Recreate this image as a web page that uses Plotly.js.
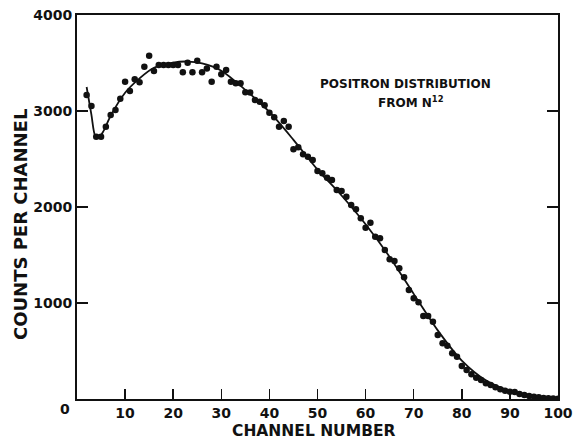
<!DOCTYPE html>
<html>
<head>
<meta charset="utf-8">
<script src="https://cdn.plot.ly/plotly-3.0.1.min.js"></script>
<style>html,body{margin:0;padding:0;background:#fff;}#chart{width:575px;height:439px;}</style>
</head>
<body>
<div id="chart"></div>
<script>
// Measured points: channel number and counts per channel
const channels = [2,3,4,5,6,7,8,9,10,11,12,13,14,15,16,17,18,19,20,21,22,23,24,25,26,27,28,29,30,31,32,33,34,35,36,37,38,39,40,41,42,43,44,45,46,47,48,49,50,51,52,53,54,55,56,57,58,59,60,61,62,63,64,65,66,67,68,69,70,71,72,73,74,75,76,77,78,79,80,81,82,83,84,85,86,87,88,89,90,91,92,93,94,95,96,97,98,99,100];
const counts = [3167,3052,2732,2732,2837,2958,3010,3128,3305,3208,3330,3299,3462,3576,3417,3479,3479,3479,3479,3479,3403,3503,3403,3524,3403,3444,3305,3462,3382,3427,3305,3288,3288,3195,3194,3115,3097,3060,2982,2934,2837,2896,2837,2601,2622,2549,2524,2490,2375,2351,2305,2281,2177,2167,2107,2021,1976,1882,1785,1837,1691,1674,1552,1455,1437,1361,1267,1135,1049,1007,865,865,805,667,580,555,476,441,344,302,257,222,198,163,146,122,101,86,76,73,52,42,31,24,18,10,7,5,3];

// Smooth fitted curve drawn through the points
const fitX = [2.0,3.0,3.8,4.5,5.5,7,10,13,16,20,23,26,30,35,40,45,50,55,60,65,70,75,80,85,90,95,100];
const fitY = [3250,2960,2740,2722,2790,2950,3190,3340,3450,3505,3515,3495,3420,3220,2990,2700,2390,2120,1820,1480,1095,715,400,195,85,30,5];

const xTicks = [10,20,30,40,50,60,70,80,90,100];
const yTicks = [1000,2000,3000,4000];

const FONT = "DejaVu Sans, Liberation Sans, Arial, sans-serif";

const data = [
  {x: fitX, y: fitY, type: 'scatter', mode: 'lines',
   line: {color: '#111', width: 1.8, shape: 'spline', smoothing: 0.8}, hoverinfo: 'skip'},
  {x: channels, y: counts, type: 'scatter', mode: 'markers',
   marker: {color: '#111', size: 6.5}}
];

const layout = {
  width: 575, height: 439,
  margin: {l: 77, r: 17, t: 15, b: 40},
  paper_bgcolor: '#fff', plot_bgcolor: '#fff',
  showlegend: false,
  font: {family: FONT, color: '#111'},
  xaxis: {
    range: [0, 100], tickvals: xTicks, ticks: 'inside', ticklen: 10, tickwidth: 1.5, tickcolor: '#111',
    showline: true, linecolor: '#111', linewidth: 2, mirror: true, showgrid: false, zeroline: false,
    tickfont: {family: FONT, size: 14, weight: 'bold', color: '#111'}
  },
  yaxis: {
    range: [0, 4000], tickvals: yTicks, ticks: 'inside', ticklen: 11, tickwidth: 1.5, tickcolor: '#111',
    showline: true, linecolor: '#111', linewidth: 2, mirror: 'ticks', showgrid: false, zeroline: false,
    tickfont: {family: FONT, size: 14, weight: 'bold', color: '#111'}
  },
  annotations: [
    {text: '0', xref: 'x', yref: 'y', x: 0, y: 0, xshift: -12, yshift: -10, showarrow: false,
     xanchor: 'center', yanchor: 'middle',
     font: {family: FONT, size: 14, weight: 'bold', color: '#111'}},
    {text: 'CHANNEL NUMBER', xref: 'paper', yref: 'paper', x: 0.4927, y: -0.0833, showarrow: false,
     xanchor: 'center', yanchor: 'middle',
     font: {family: FONT, size: 15.5, weight: 'bold', color: '#111'}},
    {text: 'COUNTS PER CHANNEL', xref: 'paper', yref: 'paper', x: -0.1185, y: 0.453, textangle: -90, showarrow: false,
     xanchor: 'center', yanchor: 'middle',
     font: {family: FONT, size: 18, weight: 'bold', color: '#111'}},
    {text: 'POSITRON DISTRIBUTION', xref: 'x', yref: 'y', x: 68.2, y: 3282, showarrow: false,
     xanchor: 'center', yanchor: 'middle',
     font: {family: FONT, size: 12, weight: 'bold', color: '#111'}},
    {text: 'FROM N<sup>12</sup>', xref: 'x', yref: 'y', x: 69.4, y: 3090, showarrow: false,
     xanchor: 'center', yanchor: 'middle',
     font: {family: FONT, size: 12, weight: 'bold', color: '#111'}}
  ]
};

Plotly.newPlot('chart', data, layout, {displayModeBar: false, staticPlot: true});
</script>
</body>
</html>
